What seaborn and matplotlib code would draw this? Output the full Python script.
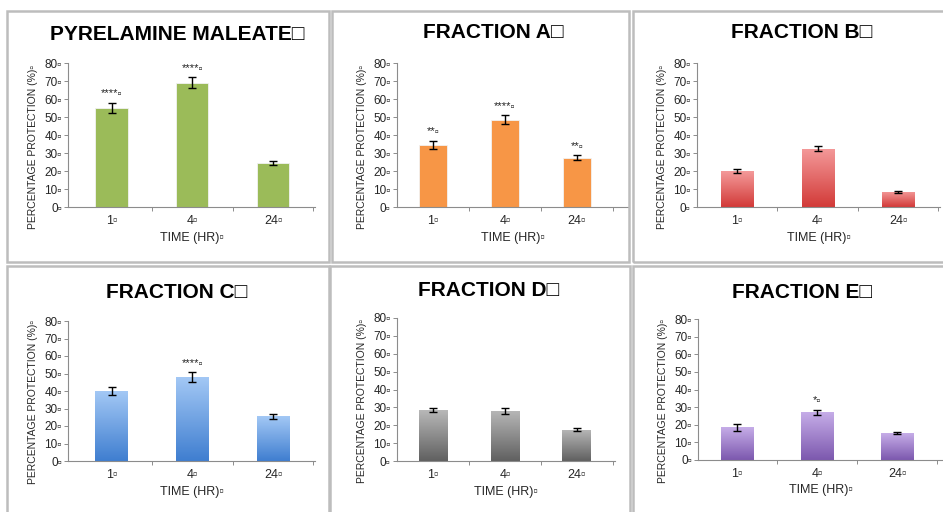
import numpy as np
import matplotlib
matplotlib.use("Agg")
import matplotlib.pyplot as plt
from matplotlib.patches import Rectangle
from matplotlib.colors import LinearSegmentedColormap
import seaborn as sns

# data
time_labels = ["1\u25ab", "4\u25ab", "24\u25ab"]
y_ticks = [0, 10, 20, 30, 40, 50, 60, 70, 80]

titles = ["PYRELAMINE MALEATE\u25a1", "FRACTION A\u25a1", "FRACTION B\u25a1",
          "FRACTION C\u25a1", "FRACTION D\u25a1", "FRACTION E\u25a1"]

pyr_vals = [55, 69, 24.5]
pyr_err = [2.8, 3.0, 1.2]
pyr_sig = ["****", "****", ""]

a_vals = [34.5, 48.5, 27.5]
a_err = [2.2, 2.5, 1.2]
a_sig = ["**", "****", "**"]

b_vals = [20, 32.5, 8.5]
b_err = [1.2, 1.5, 0.5]
b_sig = ["", "", ""]

c_vals = [40, 48, 25.5]
c_err = [2.2, 2.6, 1.4]
c_sig = ["", "****", ""]

d_vals = [28.5, 28, 17.5]
d_err = [1.2, 1.8, 0.8]
d_sig = ["", "", ""]

e_vals = [18.5, 27, 15.3]
e_err = [1.8, 1.5, 0.5]
e_sig = ["", "*", ""]

# (top colour, bottom colour); equal colours = flat fill
fills = [("#9BBB59", "#9BBB59"), ("#F79646", "#F79646"), ("#F49A9A", "#D23A38"),
         ("#A3C8F5", "#3F7ED0"), ("#B8B8B8", "#606060"), ("#C6ADE8", "#7C58AE")]

sns.set_theme(style="white")
plt.rcParams["font.family"] = ["Liberation Sans", "DejaVu Sans"]

W, H = 943, 512
fig = plt.figure(figsize=(W / 100, H / 100), dpi=100)

# panel frames (pixels: x0, y0, x1, y1)
frames = [(7, 11, 329, 262), (332, 11, 629, 262), (633, 11, 946, 262),
          (7, 266, 329, 520), (330, 266, 630, 520), (633, 266, 946, 520)]
for x0, y0, x1, y1 in frames:
    fig.add_artist(Rectangle((x0 / W, 1 - y1 / H), (x1 - x0) / W, (y1 - y0) / H,
                             transform=fig.transFigure, fill=False,
                             edgecolor="#BDBDBD", linewidth=1.8))

# axes boxes (pixels: left, top, right, bottom) and x limits
axes_px = [(68, 63, 315, 207), (397, 63, 628, 207), (697, 63, 940, 207),
           (68, 321, 315, 461), (397, 318, 615, 461), (698, 319, 943, 460)]
xlims = [(-0.54, 2.52), (-0.5, 2.71), (-0.5, 2.52),
         (-0.54, 2.52), (-0.5, 2.53), (-0.49, 2.57)]
title_px = [(177, 35), (493, 33), (802, 33), (177, 293), (489, 291), (802, 293)]

panels = [(pyr_vals, pyr_err, pyr_sig), (a_vals, a_err, a_sig), (b_vals, b_err, b_sig),
          (c_vals, c_err, c_sig), (d_vals, d_err, d_sig), (e_vals, e_err, e_sig)]

grad = np.linspace(0, 1, 256).reshape(-1, 1)

for i, (vals, errs, sig) in enumerate(panels):
    l, t, r, b = axes_px[i]
    ax = fig.add_axes([l / W, 1 - b / H, (r - l) / W, (b - t) / H])
    top_c, bot_c = fills[i]
    sns.barplot(x=time_labels, y=vals, color=top_c, width=0.4, saturation=1,
                errorbar=None, ax=ax)
    if top_c != bot_c:
        cmap = LinearSegmentedColormap.from_list("g", [bot_c, top_c])
        for p in ax.patches:
            x0, w, h = p.get_x(), p.get_width(), p.get_height()
            im = ax.imshow(grad, extent=[x0, x0 + w, 0, h], origin="lower",
                           aspect="auto", cmap=cmap, zorder=p.get_zorder())
            im.set_clip_path(p)
            p.set_facecolor("none")
    else:
        for p in ax.patches:
            p.set_edgecolor("#F2F2F2")
            p.set_linewidth(0.6)
    ax.errorbar(range(len(vals)), vals, yerr=errs, fmt="none", ecolor="black",
                elinewidth=1, capsize=2.6, capthick=1, zorder=5)
    for j, s in enumerate(sig):
        if s:
            ax.text(j, vals[j] + errs[j] + 2, s + "\u25ab", ha="center", va="bottom",
                    fontsize=8, color="#222222")

    ax.set_xlim(*xlims[i])
    ax.set_ylim(0, 80)
    ax.set_yticks(y_ticks)
    ax.set_yticklabels([f"{v}\u25ab" for v in y_ticks], fontsize=8.5)
    ax.set_xticks(range(len(time_labels)))
    ax.set_xticklabels(time_labels, fontsize=9)
    ax.set_xticks([0.5, 1.5, 2.5], minor=True)
    ax.tick_params(axis="x", which="major", length=0, pad=6)
    ax.tick_params(axis="x", which="minor", length=3, width=0.7, color="#8C8C8C",
                   direction="out", bottom=True)
    ax.tick_params(axis="y", length=3, width=0.7, color="#8C8C8C",
                   direction="out", left=True, pad=1.5)
    for side in ["top", "right"]:
        ax.spines[side].set_visible(False)
    for side in ["left", "bottom"]:
        ax.spines[side].set_color("#8C8C8C")
        ax.spines[side].set_linewidth(0.8)
    ax.set_xlabel("TIME (HR)\u25ab", fontsize=9, labelpad=3)
    ax.set_ylabel("PERCENTAGE PROTECTION (%)\u25ab", fontsize=7.5)
    ax.yaxis.set_label_coords(-30 / (r - l), 0.42)
    ax.set_facecolor("none")

    tx, ty = title_px[i]
    fig.text(tx / W, 1 - ty / H, titles[i], ha="center", va="center",
             fontsize=15, fontweight="bold", color="black")

fig.savefig("out.png", dpi=100)
